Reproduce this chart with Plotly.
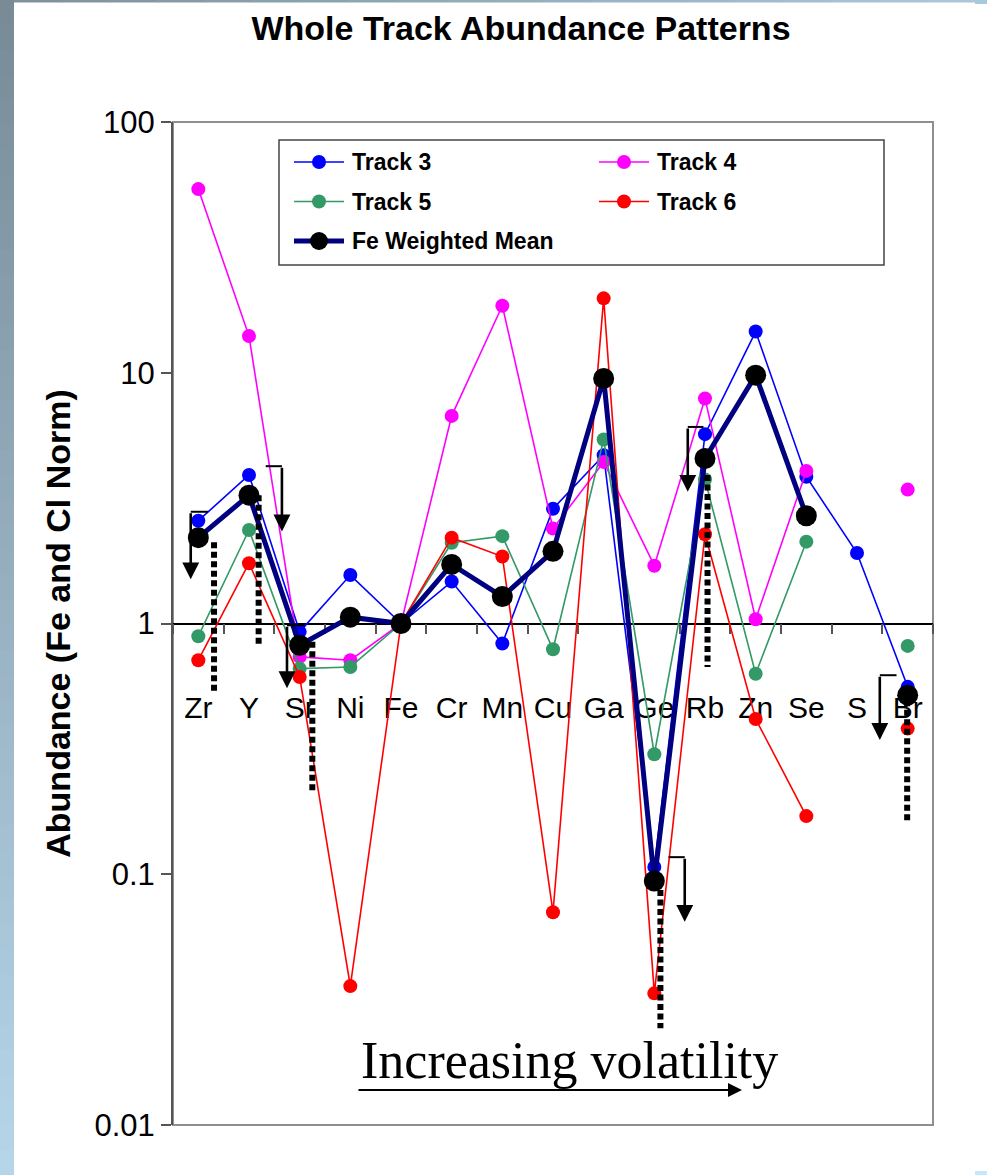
import plotly.graph_objects as go
import math

# ---------------- data ----------------
elements = ["Zr", "Y", "Sr", "Ni", "Fe", "Cr", "Mn", "Cu", "Ga", "Ge", "Rb", "Zn", "Se", "S", "Br"]
track3 = [2.57, 3.91, 0.926, 1.56, 1.0, 1.47, 0.832, 2.87, 4.69, 0.107, 5.69, 14.6, 3.85, 1.91, 0.559]
track4 = [54.0, 14.0, 0.736, 0.714, 1.0, 6.73, 18.5, 2.39, 4.41, 1.70, 7.89, 1.04, 4.06, None, 3.42]
track5 = [0.89, 2.36, 0.661, 0.671, 1.0, 2.10, 2.23, 0.789, 5.42, 0.301, 3.75, 0.63, 2.12, None, 0.814]
track6 = [0.714, 1.74, 0.612, 0.0358, 1.0, 2.20, 1.85, 0.0705, 19.8, 0.0335, 2.27, 0.416, 0.1706, None, 0.381]
fe_mean = [2.20, 3.25, 0.819, 1.06, 1.0, 1.72, 1.28, 1.94, 9.49, 0.094, 4.55, 9.78, 2.69, None, 0.518]

series_names = ["Track 3", "Track 4", "Track 5", "Track 6", "Fe Weighted Mean"]

# upper-limit arrows and dotted error bars (element index, offsets in category units, values)
limit_idx = [0, 1, 2, 9, 10, 14]
arrow_dx = [-0.15, 0.65, -0.25, 0.60, -0.34, -0.55]
arrow_top = [2.79, 4.24, 0.984, 0.117, 6.08, 0.622]
arrow_tip = [1.50, 2.33, 0.552, 0.0646, 3.35, 0.343]
cap_dx_end = [0.19, 0.33, 0.10, 0.28, -0.03, -0.22]
err_dx = [0.31, 0.19, 0.25, 0.12, 0.05, -0.01]
err_top = [2.11, 3.25, 0.845, 0.0865, 3.91, 0.494]
err_bottom = [0.527, 0.818, 0.21, 0.0243, 0.671, 0.16]

y_tickvals = [0.01, 0.1, 1, 10, 100]
y_ticktext = ["0.01", "0.1", "1", "10", "100"]

# ---------------- style ----------------
W, H = 987, 1175
L, R, T, B = 173, 54, 122, 50
PW, PH = W - L - R, H - T - B

SANS = "Liberation Sans, Arial, sans-serif"
SERIF = "Liberation Serif, Times New Roman, serif"

colors = ["#0000FF", "#FF00FF", "#339966", "#FF0000"]
MEAN_LINE = "#000080"


def px(x):
    return (x - L) / PW


def py(y):
    return (H - B - y) / PH


fig = go.Figure()

for name, vals, col in zip(series_names[:4], [track3, track4, track5, track6], colors):
    fig.add_trace(go.Scatter(
        x=elements, y=vals, name=name, mode="lines+markers",
        line=dict(color=col, width=1.6),
        marker=dict(size=14, color=col),
        connectgaps=False, showlegend=False))

fig.add_trace(go.Scatter(
    x=elements, y=fe_mean, name=series_names[4], mode="lines+markers",
    line=dict(color=MEAN_LINE, width=5),
    marker=dict(size=21, color="black"),
    connectgaps=False, showlegend=False))

shapes = []
annotations = []

# background strips (decoration)
top_c = (120, 139, 151)
bot_c = (181, 213, 233)
n = 47
for i in range(n):
    t = i / (n - 1)
    c = tuple(int(round(top_c[k] + (bot_c[k] - top_c[k]) * t)) for k in range(3))
    y0 = i * H / n
    y1 = (i + 1) * H / n + 0.5
    shapes.append(dict(type="rect", xref="paper", yref="paper",
                       x0=px(0), x1=px(14), y0=py(y1), y1=py(y0),
                       fillcolor="rgb(%d,%d,%d)" % c, line=dict(width=0), layer="below"))
left_c = (128, 146, 158)
right_c = (170, 198, 215)
m = 20
for i in range(m):
    t = i / (m - 1)
    c = tuple(int(round(left_c[k] + (right_c[k] - left_c[k]) * t)) for k in range(3))
    x0 = 14 + i * (975 - 14) / m
    x1 = 14 + (i + 1) * (975 - 14) / m + 0.5
    shapes.append(dict(type="rect", xref="paper", yref="paper",
                       x0=px(x0), x1=px(x1), y0=py(2.5), y1=py(0),
                       fillcolor="rgb(%d,%d,%d)" % c, line=dict(width=0), layer="below"))
shapes.append(dict(type="rect", xref="paper", yref="paper", x0=px(975), x1=px(987),
                   y0=py(4), y1=py(0), fillcolor="rgb(168,200,220)", line=dict(width=0), layer="below"))
shapes.append(dict(type="rect", xref="paper", yref="paper", x0=px(975), x1=px(987),
                   y0=py(1175), y1=py(1171), fillcolor="rgb(200,232,250)", line=dict(width=0), layer="below"))

# plot frame
shapes.append(dict(type="rect", xref="paper", yref="paper", x0=0, x1=1, y0=0, y1=1,
                   line=dict(color="#8f8f8f", width=2), layer="below"))

# upper-limit arrows, caps and dotted error bars
for k, idx in enumerate(limit_idx):
    xa = idx + arrow_dx[k]
    annotations.append(dict(
        x=xa, y=math.log10(arrow_tip[k]), ax=xa, ay=math.log10(arrow_top[k]),
        xref="x", yref="y", axref="x", ayref="y", text="", showarrow=True,
        arrowhead=2, arrowwidth=2.6, arrowsize=1.3, arrowcolor="black"))
    shapes.append(dict(type="line", xref="x", yref="y",
                       x0=xa, x1=idx + cap_dx_end[k],
                       y0=arrow_top[k], y1=arrow_top[k],
                       line=dict(color="black", width=2)))
    xe = idx + err_dx[k]
    shapes.append(dict(type="line", xref="x", yref="y",
                       x0=xe, x1=xe, y0=err_top[k], y1=err_bottom[k],
                       line=dict(color="black", width=6, dash="6px,3.5px")))

# manual legend
shapes.append(dict(type="rect", xref="paper", yref="paper",
                   x0=px(279), x1=px(884), y0=py(265), y1=py(140),
                   line=dict(color="#444444", width=1.5), fillcolor="white", layer="below"))
leg_cols = [0, 1, 0, 1, 0]
leg_rows = [0, 0, 1, 1, 2]
leg_colors = colors + [MEAN_LINE]
for j, name in enumerate(series_names):
    x0 = 294 + leg_cols[j] * 305
    yc = 162 + leg_rows[j] * 39.5
    is_mean = j == 4
    shapes.append(dict(type="line", xref="paper", yref="paper",
                       x0=px(x0), x1=px(x0 + 50), y0=py(yc), y1=py(yc),
                       line=dict(color=leg_colors[j], width=5 if is_mean else 1.6)))
    r = 9 if is_mean else 7
    shapes.append(dict(type="circle", xref="paper", yref="paper",
                       xsizemode="pixel", ysizemode="pixel",
                       xanchor=px(x0 + 25), yanchor=py(yc),
                       x0=-r, x1=r, y0=-r, y1=r,
                       fillcolor="black" if is_mean else leg_colors[j],
                       line=dict(width=0)))
    annotations.append(dict(x=px(x0 + 56), y=py(yc), xref="paper", yref="paper",
                            text="<b>%s</b>" % name, showarrow=False,
                            xanchor="left", yanchor="middle",
                            font=dict(family=SANS, size=23, color="black")))

# "Increasing volatility" text and arrow
annotations.append(dict(x=px(569), y=py(1060), xref="paper", yref="paper",
                        text="Increasing volatility", showarrow=False,
                        xanchor="center", yanchor="middle",
                        font=dict(family=SERIF, size=52, color="black")))
annotations.append(dict(x=px(742), y=py(1090), xref="paper", yref="paper",
                        ax=-385, ay=0, text="", showarrow=True,
                        arrowhead=2, arrowwidth=2, arrowsize=1.4, arrowcolor="black"))

fig.update_layout(
    width=W, height=H,
    margin=dict(l=L, r=R, t=T, b=B, autoexpand=False),
    paper_bgcolor="white", plot_bgcolor="white",
    showlegend=False,
    title=dict(text="<b>Whole Track Abundance Patterns</b>",
               x=px(521), xref="paper", xanchor="center",
               y=1 - 28 / H, yref="container", yanchor="middle",
               font=dict(family=SANS, size=34, color="black")),
    xaxis=dict(type="category", range=[-0.5, 14.5], anchor="free", position=0.5,
               automargin=False,
               showline=True, linecolor="black", linewidth=1.5,
               ticks="outside", ticklen=10, tickwidth=1.5, tickcolor="#555",
               tickson="boundaries", ticklabelstandoff=58, tickangle=0,
               tickfont=dict(family=SANS, size=30, color="black"),
               showgrid=False, zeroline=False, layer="below traces"),
    yaxis=dict(type="log", range=[-2, 2], tickmode="array", automargin=False,
               tickvals=y_tickvals, ticktext=y_ticktext,
               ticks="outside", ticklen=10, tickcolor="#555", tickwidth=1.5,
               showline=True, linecolor="#555", linewidth=2,
               showgrid=False, zeroline=False,
               tickfont=dict(family=SANS, size=31, color="black"),
               title=dict(text="<b>Abundance (Fe and Cl Norm)</b>", standoff=14,
                          font=dict(family=SANS, size=34, color="black"))),
    shapes=shapes,
    annotations=annotations,
)

fig.write_html("out.html",
               config={"displayModeBar": False},
               post_script="document.body.style.margin='0';document.body.style.overflow='hidden';")
